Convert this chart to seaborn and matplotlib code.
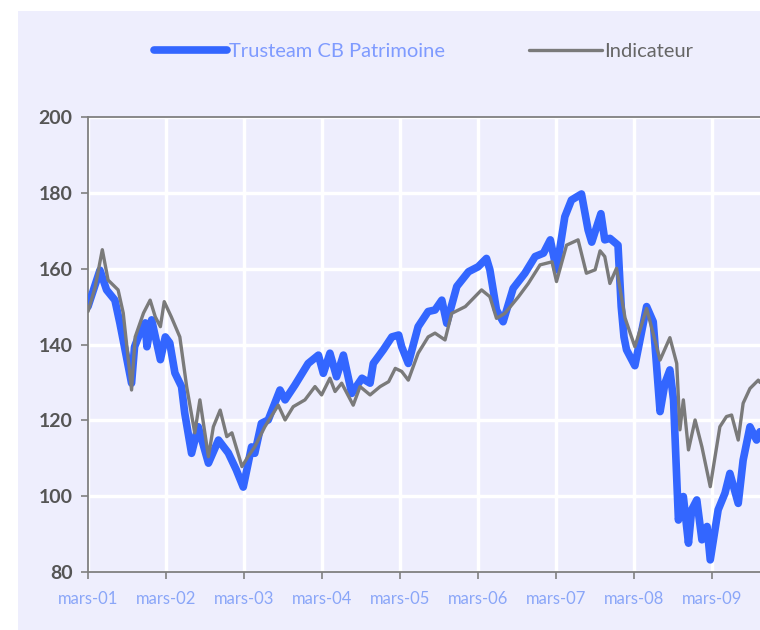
import pandas as pd
import seaborn as sns
import matplotlib.pyplot as plt
from matplotlib.patches import Rectangle

# Trusteam CB Patrimoine (blue)
fund_dates = [
    "2001-03-01", "2001-04-26", "2001-05-27", "2001-07-05", "2001-07-28", "2001-09-21",
    "2001-10-05", "2001-10-23", "2001-11-24", "2001-12-02", "2001-12-24", "2002-02-03",
    "2002-02-26", "2002-03-19", "2002-04-12", "2002-05-13", "2002-05-28", "2002-06-29",
    "2002-07-30", "2002-09-16", "2002-11-02", "2002-12-18", "2003-01-24", "2003-02-26",
    "2003-04-06", "2003-04-21", "2003-05-22", "2003-06-23", "2003-08-17", "2003-09-10",
    "2003-10-26", "2003-12-27", "2004-02-13", "2004-03-07", "2004-04-07", "2004-05-08",
    "2004-06-09", "2004-07-18", "2004-09-04", "2004-10-12", "2004-10-27", "2004-12-13",
    "2005-01-22", "2005-02-23", "2005-03-09", "2005-04-09", "2005-05-25", "2005-07-11",
    "2005-08-12", "2005-09-13", "2005-10-06", "2005-11-22", "2006-01-16", "2006-03-02",
    "2006-04-10", "2006-04-26", "2006-05-27", "2006-06-27", "2006-08-13", "2006-10-07",
    "2006-11-24", "2007-01-02", "2007-02-03", "2007-03-04", "2007-04-12", "2007-05-13",
    "2007-06-29", "2007-07-30", "2007-08-16", "2007-09-28", "2007-10-16", "2007-11-09",
    "2007-12-17", "2008-01-01", "2008-01-14", "2008-01-26", "2008-03-05", "2008-04-29",
    "2008-05-30", "2008-07-01", "2008-07-24", "2008-08-16", "2008-09-02", "2008-09-25",
    "2008-10-18", "2008-11-11", "2008-11-26", "2008-12-20", "2009-01-13", "2009-02-06",
    "2009-02-21", "2009-03-30", "2009-05-01", "2009-05-24", "2009-07-02", "2009-07-25",
    "2009-08-26", "2009-09-26", "2009-10-12",
]
fund_values = [
    150, 159.6, 154.4, 151.7, 145.7, 129.8,
    139.4, 142, 145.7, 139.4, 146.5, 136,
    142, 140.4, 132.5, 128.9, 121.9, 111.3,
    118.3, 108.7, 114.8, 111.4, 107, 102.4,
    113, 111.3, 119.2, 120.1, 128, 125.4,
    129.3, 135, 137.2, 132.4, 137.7, 131.5,
    137.2, 127.1, 131.1, 129.8, 135, 138.6,
    142, 142.5, 139.4, 135, 144.7, 148.7,
    149.1, 151.7, 145.6, 155.3, 159.2, 160.5,
    162.7, 159.7, 149.1, 146, 154.8, 158.8,
    163.2, 164.1, 167.6, 159.7, 173.7, 178.1,
    179.7, 170.2, 167, 174.5, 167.6, 168,
    166.2, 150, 142, 138.6, 134.4, 150,
    146, 122.3, 129.8, 133.3, 125.4, 93.7,
    99.9, 87.6, 96.4, 99, 88.5, 92,
    83.2, 96.4, 100.8, 106, 98.1, 109.5,
    118.3, 114.8, 117,
]

# Indicateur (grey)
index_dates = [
    "2001-03-01", "2001-04-03", "2001-05-07", "2001-06-03", "2001-07-20", "2001-08-13",
    "2001-09-21", "2001-10-08", "2001-11-16", "2001-12-17", "2002-01-10", "2002-02-03",
    "2002-02-21", "2002-03-26", "2002-05-05", "2002-06-06", "2002-07-14", "2002-08-07",
    "2002-09-16", "2002-10-09", "2002-11-10", "2002-12-11", "2003-01-04", "2003-02-20",
    "2003-03-20", "2003-04-21", "2003-06-07", "2003-08-09", "2003-09-10", "2003-10-18",
    "2003-12-12", "2004-01-28", "2004-02-28", "2004-04-07", "2004-05-01", "2004-06-01",
    "2004-07-25", "2004-08-26", "2004-10-12", "2004-11-28", "2005-01-07", "2005-02-07",
    "2005-03-09", "2005-04-09", "2005-05-25", "2005-07-11", "2005-08-12", "2005-09-28",
    "2005-10-29", "2006-01-01", "2006-03-18", "2006-04-26", "2006-05-27", "2006-07-05",
    "2006-09-07", "2006-10-23", "2006-12-17", "2007-02-11", "2007-03-04", "2007-04-20",
    "2007-06-13", "2007-07-22", "2007-09-01", "2007-09-24", "2007-10-16", "2007-11-09",
    "2007-12-10", "2008-01-19", "2008-03-05", "2008-04-29", "2008-07-01", "2008-08-16",
    "2008-09-17", "2008-10-02", "2008-10-18", "2008-11-11", "2008-12-12", "2009-01-13",
    "2009-02-21", "2009-04-07", "2009-05-08", "2009-06-01", "2009-07-02", "2009-07-25",
    "2009-08-26", "2009-10-04", "2009-10-12",
]
index_values = [
    148.7, 155, 165, 157, 154.4, 148.3,
    128, 142, 148.3, 151.7, 147.3, 144.7,
    151.3, 147.3, 142, 128.9, 116.7, 125.4,
    110.4, 118.3, 122.7, 115.7, 116.7, 107.8,
    110.4, 113, 118.3, 124, 120.1, 123.6,
    125.4, 128.9, 126.7, 131.1, 127.6, 129.8,
    124, 128.9, 126.7, 128.9, 130.2, 133.7,
    132.9, 130.6, 137.7, 142, 143, 141.2,
    148.2, 150, 154.4, 152.6, 146.9, 148.2,
    152.6, 156.1, 161, 161.8, 156.6, 166.2,
    167.6, 158.8, 159.7, 164.7, 163.2, 156.1,
    160.1, 147, 139.4, 149.5, 135.9, 141.8,
    135, 117.5, 125.4, 112.2, 120.1, 113,
    102.5, 118.3, 121, 121.4, 114.8, 124.5,
    128.4, 130.6, 130,
]

tick_dates = ["2001-03-01", "2002-03-01", "2003-03-01", "2004-03-01", "2005-03-01",
              "2006-03-01", "2007-03-01", "2008-03-01", "2009-03-01"]
tick_labels = ["mars-01", "mars-02", "mars-03", "mars-04", "mars-05",
               "mars-06", "mars-07", "mars-08", "mars-09"]

fund = pd.DataFrame({"date": pd.to_datetime(fund_dates), "value": fund_values})
index = pd.DataFrame({"date": pd.to_datetime(index_dates), "value": index_values})

bg = "#EEEEFD"
sns.set_theme(style="white")
plt.rcParams["font.family"] = ["Lato", "DejaVu Sans"]

fig = plt.figure(figsize=(7.6, 6.3), dpi=100, facecolor="white")
fig.patches.append(Rectangle((18 / 760, 0), 1, 1 - 11 / 630, transform=fig.transFigure,
                             facecolor=bg, edgecolor="none", zorder=-10))
ax = fig.add_axes([88 / 760, 58 / 630, 672 / 760, 455 / 630])
ax.set_facecolor(bg)

sns.lineplot(data=fund, x="date", y="value", ax=ax, color="#3366FF", linewidth=5.5,
             label="Trusteam CB Patrimoine", solid_capstyle="round", zorder=3)
sns.lineplot(data=index, x="date", y="value", ax=ax, color="#7A7A7A", linewidth=2.4,
             label="Indicateur", zorder=4)

ax.set_xlim(pd.Timestamp("2001-03-01"), pd.Timestamp("2009-10-12"))
ax.set_ylim(80, 200)
ax.set_yticks([80, 100, 120, 140, 160, 180, 200])
ax.set_xticks(pd.to_datetime(tick_dates))
ax.set_xticklabels(tick_labels)
ax.set_xlabel("")
ax.set_ylabel("")

ax.grid(True, color="white", linewidth=2.5)
ax.set_axisbelow(True)
for side in ["left", "bottom", "top"]:
    ax.spines[side].set_color("#808080")
    ax.spines[side].set_linewidth(1.3)
ax.spines["right"].set_visible(False)

ax.tick_params(axis="both", direction="out", length=5, width=1.2, color="#808080",
               bottom=True, left=True)
ax.tick_params(axis="y", labelsize=14, labelcolor="#555555", pad=6)
ax.tick_params(axis="x", labelsize=12, labelcolor="#8AA6F8", pad=9)
for lbl in ax.get_yticklabels():
    lbl.set_fontweight("bold")

ax.get_legend().remove()
leg = fig.legend(*ax.get_legend_handles_labels(), loc="center", bbox_to_anchor=(0.557, 0.918),
                 ncol=2, frameon=False, fontsize=14.5, handlelength=3.6, handletextpad=0.1,
                 columnspacing=4.2)
for text, col in zip(leg.get_texts(), ["#7F9BFF", "#666666"]):
    text.set_color(col)

fig.savefig("out.png", dpi=100, facecolor="white")
